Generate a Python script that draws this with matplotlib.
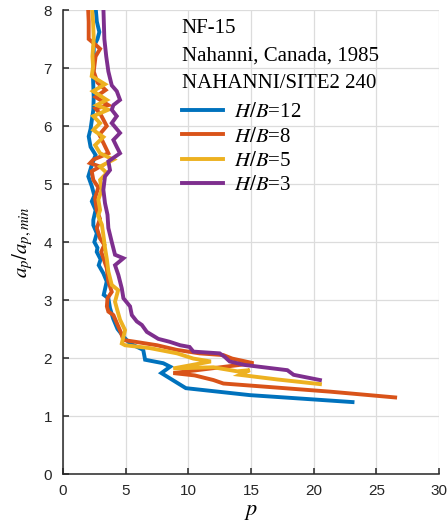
import matplotlib
matplotlib.use("Agg")
import matplotlib.pyplot as plt

plt.rcParams["mathtext.fontset"] = "stix"
plt.rcParams["font.family"] = ["Liberation Sans", "DejaVu Sans"]

# Normalised amplitude ratio a_p / a_p,min versus p for four H/B ratios
ratio_hb12 = [8.05, 7.8, 7.62, 7.5, 7.37, 7.1, 6.8, 6.5, 6.28, 6.1, 5.95, 5.82, 5.64,
              5.5, 5.33, 5.13, 4.96, 4.8, 4.7, 4.55, 4.38, 4.29, 4.15, 4.0, 3.9, 3.83,
              3.7, 3.6, 3.46, 3.32, 3.09, 3.03, 2.86, 2.68, 2.5, 2.35, 2.25, 2.14,
              1.97, 1.91, 1.85, 1.74, 1.48, 1.36, 1.24]
p_hb12 = [2.6, 2.7, 2.9, 2.75, 2.45, 2.45, 2.4, 2.45, 2.42, 2.3, 2.2, 2.05, 2.2,
          2.6, 2.3, 2.02, 2.3, 2.5, 2.3, 2.6, 2.42, 2.42, 2.7, 2.5, 2.75, 2.69,
          3.0, 2.85, 3.22, 3.49, 3.25, 3.62, 3.75, 4.0, 4.35, 4.9, 5.35, 6.4,
          6.55, 8.0, 8.55, 7.85, 9.8, 14.9, 23.1]

ratio_hb8 = [8.05, 7.8, 7.5, 7.4, 7.33, 7.2, 6.94, 6.75, 6.62, 6.5, 6.36, 6.3, 6.2,
             6.0, 5.85, 5.71, 5.53, 5.42, 5.36, 5.30, 5.22, 5.07, 4.94, 4.76, 4.55,
             4.4, 4.24, 4.06, 3.95, 3.83, 3.55, 3.32, 3.14, 3.03, 2.89, 2.80, 2.74,
             2.6, 2.45, 2.31, 2.28, 2.22, 2.14, 2.08, 2.05, 1.99, 1.91, 1.74, 1.70,
             1.62, 1.56, 1.42, 1.32]
p_hb8 = [2.0, 2.05, 2.05, 2.6, 2.96, 2.6, 2.45, 2.75, 3.4, 2.6, 3.62, 2.6, 3.0,
         3.49, 2.9, 3.22, 3.62, 2.42, 2.16, 2.96, 2.29, 2.42, 2.82, 2.56, 2.69,
         2.95, 2.7, 2.96, 3.3, 3.05, 3.49, 3.62, 3.89, 3.55, 3.5, 3.62, 4.02,
         4.3, 4.6, 4.82, 5.75, 7.5, 9.08, 10.9, 12.8, 13.5, 15.2, 8.8, 10.5,
         12.0, 12.8, 21.3, 26.5]

ratio_hb5 = [8.05, 7.8, 7.5, 7.2, 7.02, 6.86, 6.72, 6.6, 6.45, 6.36, 6.28, 6.17, 6.05,
             5.93, 5.81, 5.67, 5.53, 5.42, 5.30, 5.19, 5.07, 4.90, 4.73, 4.55, 4.45,
             4.30, 4.12, 3.9, 3.7, 3.49, 3.26, 3.17, 2.97, 2.85, 2.66, 2.48, 2.25,
             2.22, 2.17, 2.08, 1.99, 1.94, 1.82, 1.84, 1.77, 1.79, 1.71, 1.63, 1.55]
p_hb5 = [2.3, 2.4, 2.45, 2.35, 2.4, 2.29, 3.35, 2.4, 3.49, 2.69, 3.6, 2.42, 2.96,
         2.42, 3.22, 2.56, 2.96, 4.02, 2.96, 3.49, 2.96, 3.09, 2.82, 2.96, 2.8,
         3.1, 3.22, 3.35, 3.5, 3.62, 3.89, 4.4, 4.15, 4.3, 4.55, 4.95, 4.69,
         4.95, 6.95, 9.1, 10.4, 11.8, 8.8, 12.0, 13.9, 14.9, 14.1, 17.1, 20.5]

ratio_hb3 = [8.05, 7.5, 7.2, 6.94, 6.7, 6.6, 6.45, 6.36, 6.28, 6.17, 6.05, 5.88, 5.76,
             5.64, 5.53, 5.39, 5.24, 5.13, 4.90, 4.67, 4.47, 4.24, 4.0, 3.78, 3.72,
             3.6, 3.43, 3.2, 3.03, 2.89, 2.74, 2.63, 2.57, 2.45, 2.37, 2.33, 2.28,
             2.22, 2.19, 2.11, 2.08, 2.02, 1.94, 1.91, 1.88, 1.79, 1.71, 1.62]
p_hb3 = [3.22, 3.3, 3.45, 3.62, 3.89, 4.29, 4.55, 4.02, 3.89, 4.29, 3.89, 4.55, 4.02,
         4.29, 4.55, 3.62, 3.75, 3.35, 3.22, 3.35, 3.55, 3.62, 3.89, 4.15, 4.82,
         4.15, 4.42, 4.69, 4.82, 5.35, 5.49, 5.89, 6.29, 6.69, 7.3, 7.6, 8.5,
         9.35, 10.1, 10.4, 12.5, 12.9, 13.3, 13.9, 14.5, 17.9, 18.4, 20.5]

labels = ["$H/B$=12", "$H/B$=8", "$H/B$=5", "$H/B$=3"]
colors = ["#0072BD", "#D95319", "#EDB120", "#7E2F8E"]
series = [(p_hb12, ratio_hb12), (p_hb8, ratio_hb8), (p_hb5, ratio_hb5), (p_hb3, ratio_hb3)]

x_ticks = [0, 5, 10, 15, 20, 25, 30]
y_ticks = [0, 1, 2, 3, 4, 5, 6, 7, 8]

fig = plt.figure(figsize=(4.48, 5.32), dpi=100)
ax = fig.add_axes([63 / 448, 58 / 532, 376 / 448, 464 / 532])

for (px, ry), lab, col in zip(series, labels, colors):
    ax.plot(px, ry, color=col, lw=2.8, label=lab, solid_joinstyle="miter")

ax.set_xlim(0, 30)
ax.set_ylim(0, 8)
ax.set_xticks(x_ticks)
ax.set_yticks(y_ticks)
ax.grid(True, color="#dcdcdc", lw=0.9)
ax.set_axisbelow(True)
for side in ("top", "right"):
    ax.spines[side].set_visible(False)
for side in ("left", "bottom"):
    ax.spines[side].set_color("#262626")
    ax.spines[side].set_linewidth(1.1)
ax.tick_params(direction="in", length=4, width=1.1, color="#262626",
               labelsize=11, labelcolor="#262626")
ax.tick_params(axis="x", pad=7)
ax.tick_params(axis="y", pad=8)

ax.set_xlabel("$p$", fontsize=16, labelpad=2)
ax.set_ylabel("$a_p/a_{p,min}$", fontsize=15, labelpad=6)

serif = ["Liberation Serif", "DejaVu Serif"]
for txt, yb in zip(["NF-15", "Nahanni, Canada, 1985", "NAHANNI/SITE2 240"],
                   [0.950, 0.891, 0.831]):
    ax.text(0.316, yb, txt, transform=ax.transAxes, fontsize=15,
            family=serif, va="baseline", ha="left", color="black")

leg = ax.legend(loc="upper left", bbox_to_anchor=(0.293, 0.818), frameon=False,
                prop={"family": serif, "size": 15}, handlelength=2.0,
                handletextpad=0.5, labelspacing=0.23, borderaxespad=0)

fig.savefig("out.png", dpi=100)
